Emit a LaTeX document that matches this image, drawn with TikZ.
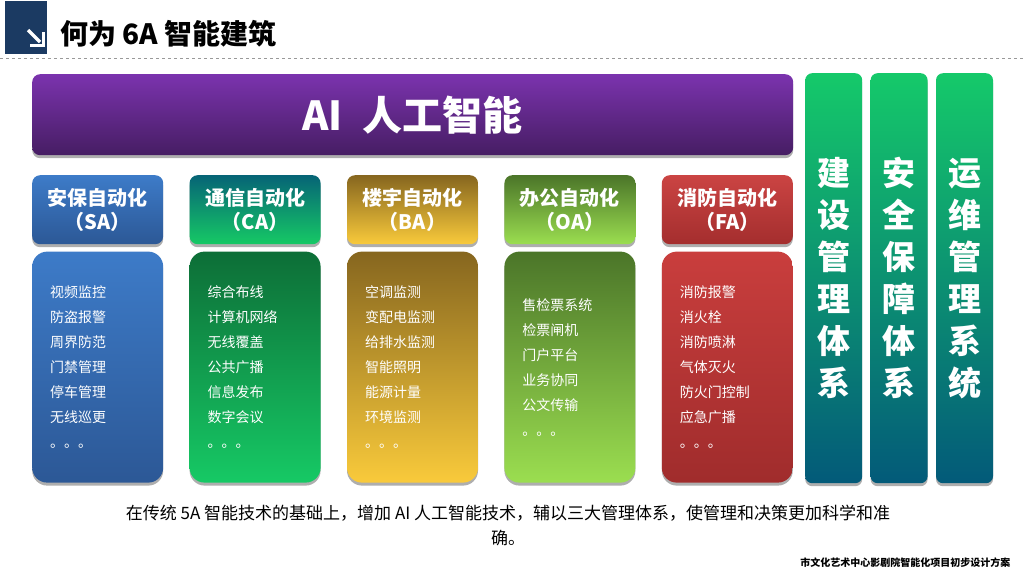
\documentclass[tikz,border=0pt]{standalone}
\usepackage{fontspec}
\setmainfont{Noto Sans CJK SC}
\usetikzlibrary{positioning, shadows}

\definecolor{iconBlue}{HTML}{1B3A62}
\definecolor{aiTop}{HTML}{7B33AE}
\definecolor{aiBot}{HTML}{461D63}
\definecolor{saTop}{HTML}{3D7BC8}
\definecolor{saBot}{HTML}{2C5896}
\definecolor{caHeadTop}{HTML}{066476}
\definecolor{caTop}{HTML}{0D6E37}
\definecolor{caBot}{HTML}{16C965}
\definecolor{baTop}{HTML}{86661F}
\definecolor{baBot}{HTML}{F9CA3B}
\definecolor{oaTop}{HTML}{4B7529}
\definecolor{oaBot}{HTML}{9BDE50}
\definecolor{faTop}{HTML}{C93E3D}
\definecolor{faBot}{HTML}{A02C2C}
\definecolor{colTop}{HTML}{15C96A}
\definecolor{colBot}{HTML}{035A79}

\tikzset{
  boxshadow/.style={drop shadow={shadow xshift=0pt, shadow yshift=-3pt, fill=black!45, opacity=0.7}},
  headbox/.style={rounded corners=8pt, minimum width=131pt, minimum height=69pt, inner sep=0pt,
    align=center, text=white, font=\bfseries\fontsize{20}{24}\selectfont, boxshadow},
  listbox/.style={rounded corners=15pt, minimum width=131pt, minimum height=231pt, inner xsep=18pt,
    text width=95pt, align=left, text=white, font=\fontsize{14}{25}\selectfont, boxshadow},
  mgmtcol/.style={rounded corners=7pt, minimum width=57pt, minimum height=410pt, inner sep=0pt,
    align=center, text=white, font=\bfseries\fontsize{33}{42}\selectfont,
    top color=colTop, bottom color=colBot, boxshadow}
}

\begin{document}
\begin{tikzpicture}[x=1pt, y=-1pt]
\useasboundingbox (0,0) rectangle (1024,576);

% title bar
\fill[iconBlue] (5,1) rectangle (47,54);
\draw[white, line width=3.5pt] (28,30) -- (40,42);
\draw[white, line width=3pt, line join=miter] (43,32) -- (43,45) -- (30,45);
\node[anchor=west, font=\bfseries\fontsize{28}{32}\selectfont] (title) at (57,34) {何为 6A 智能建筑};
\draw[black!40, dashed] (0,58) -- (1024,58);

% AI banner
\node[rounded corners=8pt, minimum width=761pt, minimum height=81pt, top color=aiTop, bottom color=aiBot,
  text=white, font=\bfseries\fontsize{40}{44}\selectfont, boxshadow, anchor=north west] (ai) at (32,74) {AI\enspace 人工智能};

% the five A's
\node[headbox, top color=saTop, bottom color=saBot, anchor=north west] (sa) at (32,175) {安保自动化\\（SA）};
\node[headbox, top color=caHeadTop, bottom color=caBot, right=26pt of sa] (ca) {通信自动化\\（CA）};
\node[headbox, top color=baTop, bottom color=baBot, right=26pt of ca] (ba) {楼宇自动化\\（BA）};
\node[headbox, top color=oaTop, bottom color=oaBot, right=26pt of ba] (oa) {办公自动化\\（OA）};
\node[headbox, top color=faTop!97, bottom color=faBot!90!faTop, right=26pt of oa] (fa) {消防自动化\\（FA）};

\node[listbox, top color=saTop, bottom color=saBot, below=7pt of sa] (saList)
  {视频监控\\防盗报警\\周界防范\\门禁管理\\停车管理\\无线巡更\\。。。};
\node[listbox, top color=caTop, bottom color=caBot, below=7pt of ca] (caList)
  {综合布线\\计算机网络\\无线覆盖\\公共广播\\信息发布\\数字会议\\。。。};
\node[listbox, top color=baTop, bottom color=baBot, below=7pt of ba] (baList)
  {空调监测\\变配电监测\\给排水监测\\智能照明\\能源计量\\环境监测\\。。。};
\node[listbox, top color=oaTop, bottom color=oaBot, below=7pt of oa] (oaList)
  {售检票系统\\检票闸机\\门户平台\\业务协同\\公文传输\\。。。};
\node[listbox, top color=faTop, bottom color=faBot, below=7pt of fa] (faList)
  {消防报警\\消火栓\\消防喷淋\\气体灭火\\防火门控制\\应急广播\\。。。};

% management systems
\node[mgmtcol, anchor=north west] (build) at (805,73) {建\\设\\管\\理\\体\\系};
\node[mgmtcol, right=8pt of build] (safe) {安\\全\\保\\障\\体\\系};
\node[mgmtcol, right=8pt of safe] (ops) {运\\维\\管\\理\\系\\统};

% notes
\node[align=center, font=\fontsize{17}{25}\selectfont] (note) at (508,525)
  {在传统 5A 智能技术的基础上，增加 AI 人工智能技术，辅以三大管理体系，使管理和决策更加科学和准\\确。};
\node[anchor=east, font=\bfseries\fontsize{10}{12}\selectfont] (footer) at (1014,563) {市文化艺术中心影剧院智能化项目初步设计方案};
\end{tikzpicture}
\end{document}
